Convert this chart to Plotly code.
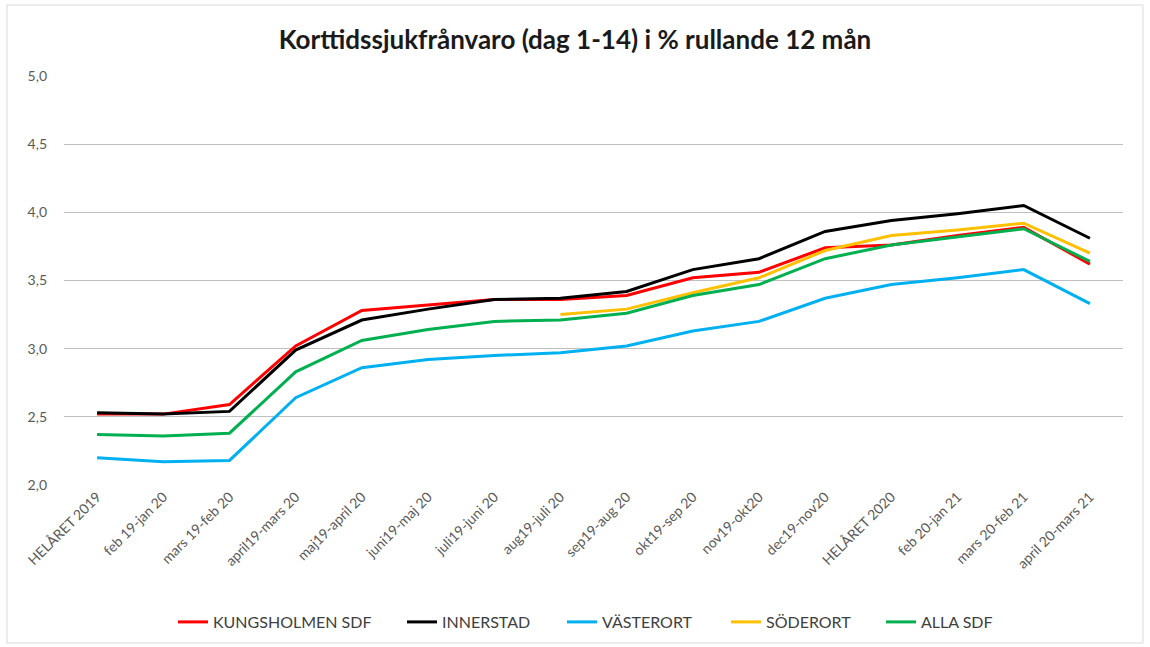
import plotly.graph_objects as go

categories = ["HELÅRET 2019", "feb 19-jan 20", "mars 19-feb 20", "april19-mars 20",
              "maj19-april 20", "juni19-maj 20", "juli19-juni 20", "aug19-juli 20",
              "sep19-aug 20", "okt19-sep 20", "nov19-okt20", "dec19-nov20",
              "HELÅRET 2020", "feb 20-jan 21", "mars 20-feb 21", "april 20-mars 21"]

kungsholmen = [2.52, 2.52, 2.59, 3.02, 3.28, 3.32, 3.36, 3.36, 3.39, 3.52, 3.56, 3.74, 3.76, 3.83, 3.89, 3.62]
innerstad   = [2.53, 2.52, 2.54, 2.99, 3.21, 3.29, 3.36, 3.37, 3.42, 3.58, 3.66, 3.86, 3.94, 3.99, 4.05, 3.81]
vasterort   = [2.20, 2.17, 2.18, 2.64, 2.86, 2.92, 2.95, 2.97, 3.02, 3.13, 3.20, 3.37, 3.47, 3.52, 3.58, 3.33]
soderort    = [None, None, None, None, None, None, None, 3.25, 3.29, 3.41, 3.52, 3.72, 3.83, 3.87, 3.92, 3.70]
alla_sdf    = [2.37, 2.36, 2.38, 2.83, 3.06, 3.14, 3.20, 3.21, 3.26, 3.39, 3.47, 3.66, 3.76, 3.82, 3.88, 3.64]

series = [
    ("KUNGSHOLMEN SDF", kungsholmen, "#FF0000"),
    ("INNERSTAD", innerstad, "#000000"),
    ("VÄSTERORT", vasterort, "#00B0F0"),
    ("SÖDERORT", soderort, "#FFC000"),
    ("ALLA SDF", alla_sdf, "#00B050"),
]

y_ticks = [2.0, 2.5, 3.0, 3.5, 4.0, 4.5, 5.0]
y_ticktext = ["2,0", "2,5", "3,0", "3,5", "4,0", "4,5", "5,0"]

FONT = "Lato, 'Open Sans', sans-serif"

# left pixel of each legend entry (layout only)
legend_px = [173, 402, 562, 726, 881]
PLOT_L, PLOT_W, PLOT_B, PLOT_H = 64, 1059, 485, 409

fig = go.Figure()
legends = {}
for i, (name, vals, color) in enumerate(series):
    key = "legend" if i == 0 else f"legend{i + 1}"
    fig.add_trace(go.Scatter(
        x=categories, y=vals, name=name, mode="lines",
        line=dict(color=color, width=3),
        connectgaps=False, legend=key,
    ))
    legends[key] = dict(orientation="h", x=(legend_px[i] - PLOT_L) / PLOT_W, xanchor="left",
                        y=(PLOT_B - 622) / PLOT_H, yanchor="middle",
                        font=dict(family=FONT, size=16, color="#404040"),
                        bgcolor="rgba(0,0,0,0)")

fig.update_layout(
    width=1150, height=647,
    paper_bgcolor="white", plot_bgcolor="white",
    margin=dict(l=PLOT_L, r=1150 - PLOT_L - PLOT_W, t=PLOT_B - PLOT_H, b=647 - PLOT_B, autoexpand=False),
    font=dict(family=FONT, color="#595959", size=13),
    title=dict(text="<b>Korttidssjukfrånvaro (dag 1-14) i % rullande 12 mån</b>",
               x=0.5, xanchor="center", y=1 - 40 / 647, yanchor="middle",
               font=dict(family=FONT, size=26, color="#1a1a1a")),
    showlegend=True,
    xaxis=dict(type="category", range=[-0.5, 15.5], tickangle=-45, automargin=False,
               showgrid=False, zeroline=False, showline=False, ticks="",
               tickfont=dict(family=FONT, size=14, color="#595959")),
    yaxis=dict(range=[2.0, 5.0], tickvals=y_ticks, ticktext=y_ticktext, automargin=False,
               showgrid=True, gridcolor="#BFBFBF", gridwidth=1, zeroline=False,
               showline=False, ticks="", ticklabelstandoff=16,
               tickfont=dict(family=FONT, size=14, color="#595959")),
    **legends,
)

# outer chart border
fig.add_shape(type="rect", xref="paper", yref="paper",
              x0=(7 - PLOT_L) / PLOT_W, x1=(1143 - PLOT_L) / PLOT_W,
              y0=(PLOT_B - 643) / PLOT_H, y1=(PLOT_B - 5) / PLOT_H,
              line=dict(color="#D9D9D9", width=1), fillcolor="rgba(0,0,0,0)", layer="below")

fig.write_html("out.html", config={"displayModeBar": False},
               post_script="document.body.style.margin='0';")
